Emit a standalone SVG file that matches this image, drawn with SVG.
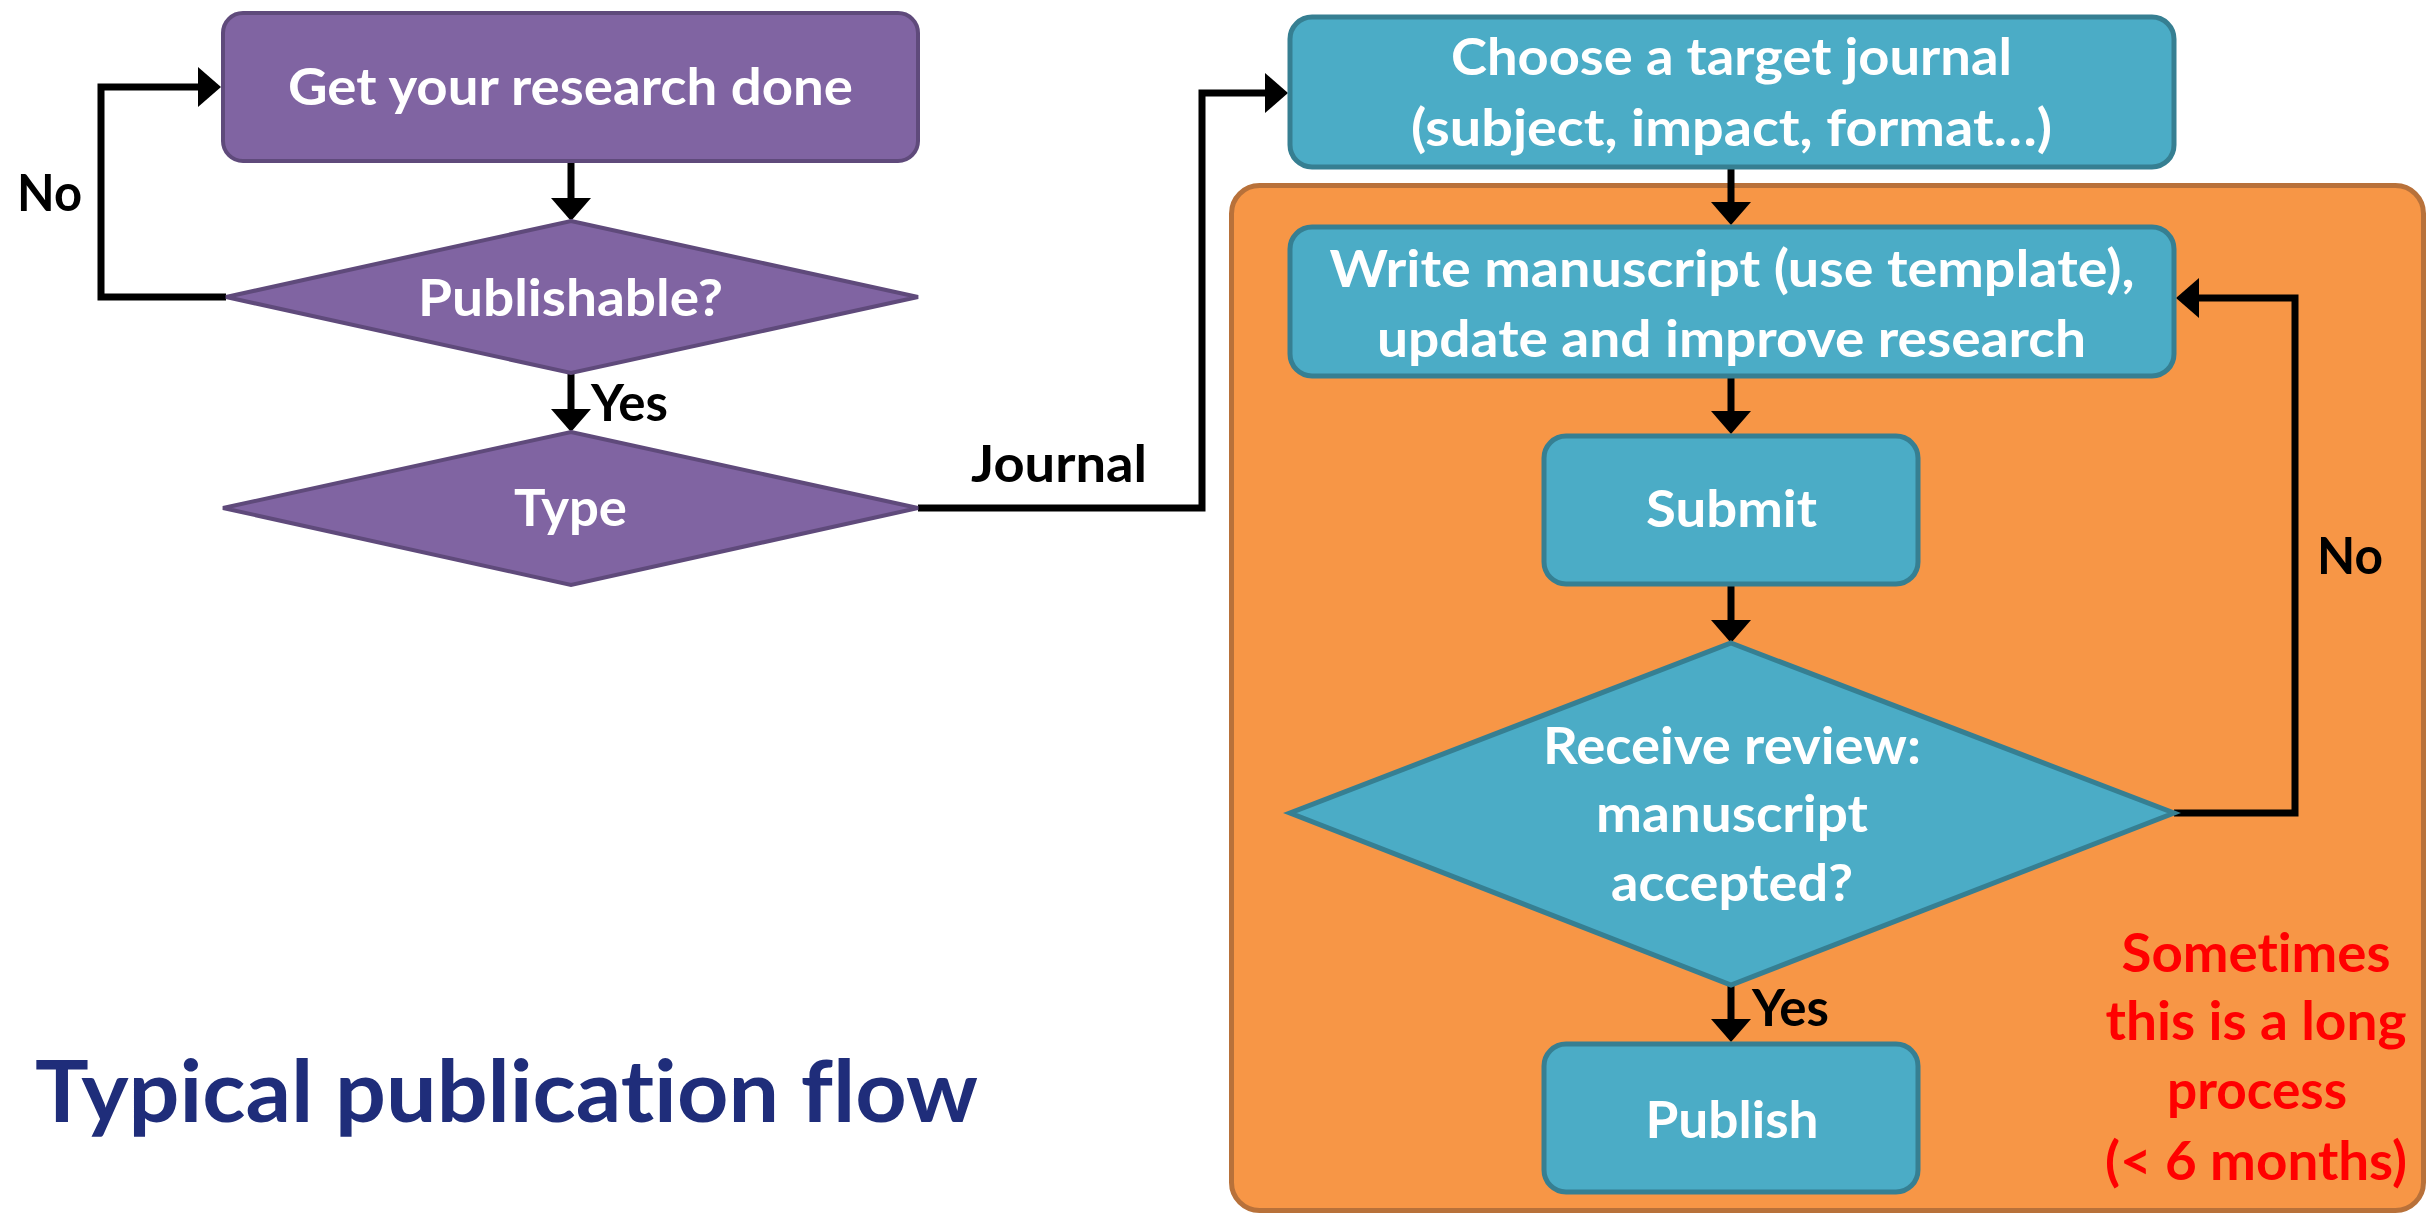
<svg xmlns="http://www.w3.org/2000/svg" width="2428" height="1215" viewBox="0 0 2428 1215">
  <style>
    text { font-variant-ligatures: none; font-feature-settings: "liga" 0, "clig" 0; }
    .purple { fill: #8064A2; stroke: #5F4A7B; stroke-width: 4; }
    .teal { fill: #4BACC6; stroke: #367F92; stroke-width: 5; }
    .lane { fill: #F79646; stroke: #B8713A; stroke-width: 5; }
    .node-text { font-family: Lato, "Open Sans", "Liberation Sans", sans-serif; font-weight: 700; font-size: 52px; fill: #FFFFFF; text-anchor: middle; }
    .label { font-family: Lato, "Open Sans", "Liberation Sans", sans-serif; font-weight: 700; font-size: 51px; fill: #000000; }
    .note { font-family: Lato, "Open Sans", "Liberation Sans", sans-serif; font-weight: 700; font-size: 54px; fill: #FF0000; text-anchor: middle; }
    .title { font-family: Lato, "Open Sans", "Liberation Sans", sans-serif; font-weight: 700; font-size: 86px; fill: #1F2D7A; }
    .wire { fill: none; stroke: #000000; stroke-width: 7; stroke-linejoin: miter; }
  </style>
  <defs>
    <marker id="arrow" markerUnits="userSpaceOnUse" markerWidth="24" markerHeight="42" viewBox="0 -21 24 42" refX="0" refY="0" orient="auto">
      <path d="M0,-20 L23,0 L0,20 Z" fill="#000000"/>
    </marker>
  </defs>

  <rect width="2428" height="1215" fill="#FFFFFF"/>

  <!-- journal review lane -->
  <g id="lane-review">
    <rect class="lane" x="1231.5" y="185.5" width="1192" height="1025" rx="28"/>
  </g>

  <g id="connectors">
    <path class="wire" d="M571,163 V198" marker-end="url(#arrow)"/>
    <path class="wire" d="M571,373 V409" marker-end="url(#arrow)"/>
    <path class="wire" d="M226,297 H101 V87 H198" marker-end="url(#arrow)"/>
    <path class="wire" d="M918,508 H1202 V93 H1265" marker-end="url(#arrow)"/>
    <path class="wire" d="M1731,169 V202" marker-end="url(#arrow)"/>
    <path class="wire" d="M1731,378 V411" marker-end="url(#arrow)"/>
    <path class="wire" d="M1731,585 V620" marker-end="url(#arrow)"/>
    <path class="wire" d="M1731,985 V1019" marker-end="url(#arrow)"/>
    <path class="wire" d="M2174,813 H2295 V298 H2199" marker-end="url(#arrow)"/>
    <text class="label" x="17" y="211" textLength="65" lengthAdjust="spacingAndGlyphs">No</text>
    <text class="label" x="591" y="421" textLength="77" lengthAdjust="spacingAndGlyphs">Yes</text>
    <text class="label" x="971" y="482" textLength="176" lengthAdjust="spacingAndGlyphs">Journal</text>
    <text class="label" x="2317" y="574" textLength="66" lengthAdjust="spacingAndGlyphs">No</text>
    <text class="label" x="1752" y="1026" textLength="77" lengthAdjust="spacingAndGlyphs">Yes</text>
  </g>

  <g id="node-research">
    <rect class="purple" x="223" y="13" width="695" height="148" rx="20"/>
    <text class="node-text" x="570.5" y="105" textLength="565" lengthAdjust="spacingAndGlyphs">Get your research done</text>
  </g>

  <g id="node-publishable">
    <polygon class="purple" points="571,221 918,297 571,373 226,297"/>
    <text class="node-text" x="570.5" y="316" textLength="305" lengthAdjust="spacingAndGlyphs">Publishable?</text>
  </g>

  <g id="node-type">
    <polygon class="purple" points="571,432 918,508 571,585 223,508"/>
    <text class="node-text" x="570.5" y="526" textLength="113" lengthAdjust="spacingAndGlyphs">Type</text>
  </g>

  <g id="node-choose">
    <rect class="teal" x="1290" y="17" width="884" height="150" rx="22"/>
    <text class="node-text" x="1731.5" y="75" textLength="561" lengthAdjust="spacingAndGlyphs">Choose a target journal</text>
    <text class="node-text" x="1731.5" y="146" textLength="641" lengthAdjust="spacingAndGlyphs">(subject, impact, format…)</text>
  </g>

  <g id="node-write">
    <rect class="teal" x="1290" y="227" width="884" height="149" rx="22"/>
    <text class="node-text" x="1732" y="287" textLength="805" lengthAdjust="spacingAndGlyphs">Write manuscript (use template),</text>
    <text class="node-text" x="1731.5" y="357" textLength="709" lengthAdjust="spacingAndGlyphs">update and improve research</text>
  </g>

  <g id="node-submit">
    <rect class="teal" x="1544" y="436" width="374" height="148" rx="22"/>
    <text class="node-text" x="1731.5" y="527" textLength="171" lengthAdjust="spacingAndGlyphs">Submit</text>
  </g>

  <g id="node-review">
    <polygon class="teal" points="1731,643 2174,813 1731,985 1290,813"/>
    <text class="node-text" x="1732" y="764" textLength="378" lengthAdjust="spacingAndGlyphs">Receive review:</text>
    <text class="node-text" x="1732" y="832" textLength="272" lengthAdjust="spacingAndGlyphs">manuscript</text>
    <text class="node-text" x="1732" y="901" textLength="242" lengthAdjust="spacingAndGlyphs">accepted?</text>
  </g>

  <g id="node-publish">
    <rect class="teal" x="1544" y="1044" width="374" height="148" rx="22"/>
    <text class="node-text" x="1732" y="1138" textLength="173" lengthAdjust="spacingAndGlyphs">Publish</text>
  </g>

  <g id="note-duration">
    <text class="note" x="2256" y="972" textLength="269" lengthAdjust="spacingAndGlyphs">Sometimes</text>
    <text class="note" x="2256" y="1040" textLength="301" lengthAdjust="spacingAndGlyphs">this is a long</text>
    <text class="note" x="2257" y="1109" textLength="180" lengthAdjust="spacingAndGlyphs">process</text>
    <text class="note" x="2256" y="1180" textLength="302" lengthAdjust="spacingAndGlyphs">(&lt; 6 months)</text>
  </g>

  <g id="title">
    <text class="title" x="35" y="1122" textLength="943" lengthAdjust="spacingAndGlyphs">Typical publication flow</text>
  </g>
</svg>
